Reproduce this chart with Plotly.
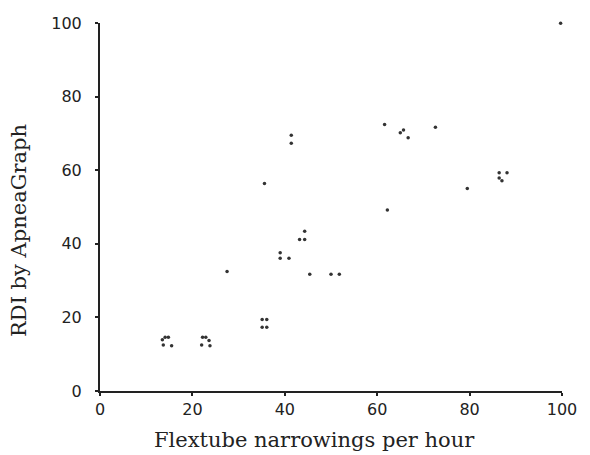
import plotly.graph_objects as go

flextube = [13.5, 13.7, 14.1, 14.8, 15.5, 22.0, 22.2, 22.9, 23.6, 23.8, 27.5,
            35.1, 36.1, 35.1, 36.1, 35.6, 39.0, 39.0, 40.9, 41.4, 41.4, 43.2,
            44.3, 44.3, 45.4, 50.0, 51.8, 61.6, 62.2, 65.0, 65.7, 66.7, 72.6,
            79.5, 86.4, 86.4, 87.0, 88.1, 99.7]
rdi = [13.9, 12.5, 14.6, 14.6, 12.3, 12.5, 14.6, 14.6, 13.7, 12.3, 32.5,
       19.4, 19.4, 17.3, 17.3, 56.4, 37.6, 36.1, 36.1, 69.5, 67.3, 41.2,
       41.2, 43.4, 31.7, 31.7, 31.7, 72.4, 49.2, 70.2, 70.9, 68.8, 71.7,
       55.0, 57.9, 59.3, 57.1, 59.3, 99.9]
tick_vals = [0, 20, 40, 60, 80, 100]
x_title = "Flextube narrowings per hour"
y_title = "RDI by ApneaGraph"

fig = go.Figure(go.Scatter(
    x=flextube, y=rdi, mode="markers",
    marker=dict(size=3.5, color="#333333", line=dict(width=0)),
    cliponaxis=False, showlegend=False))

axis_common = dict(
    range=[0, 100], tickvals=tick_vals, showgrid=False, zeroline=False,
    showline=True, linecolor="#222222", linewidth=2, ticks="outside",
    ticklen=3, tickwidth=1.5, tickcolor="#222222",
    tickfont=dict(family="DejaVu Sans", size=16, color="#222222"),
)
fig.update_xaxes(**axis_common)
fig.update_yaxes(**axis_common, ticklabelstandoff=10)

fig.update_layout(
    width=590, height=455,
    margin=dict(l=100, r=28, t=23, b=64),
    plot_bgcolor="white", paper_bgcolor="white",
    annotations=[
        dict(text=x_title, xref="paper", yref="paper", x=(314 - 100) / 462,
             y=-(440 - 391) / 368, showarrow=False, xanchor="center",
             yanchor="middle",
             font=dict(family="DejaVu Serif", size=21, color="#222222")),
        dict(text=y_title, xref="paper", yref="paper", x=-(100 - 19) / 462,
             y=(391 - 231) / 368, showarrow=False, xanchor="center",
             yanchor="middle", textangle=-90,
             font=dict(family="DejaVu Serif", size=21, color="#222222")),
    ],
)

fig.write_html("out.html")
